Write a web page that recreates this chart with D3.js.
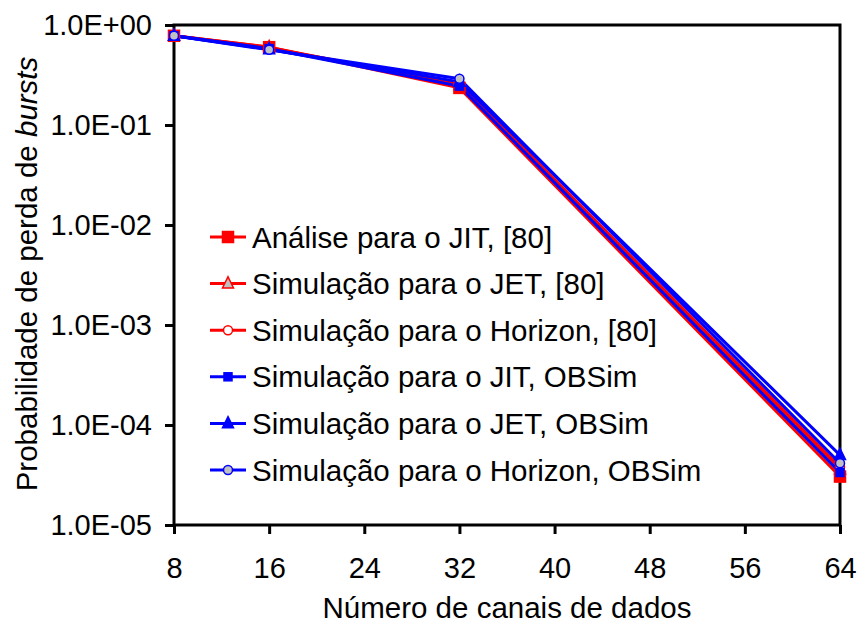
<!DOCTYPE html>
<html>
<head>
<meta charset="utf-8">
<script src="https://cdn.jsdelivr.net/npm/d3@7"></script>
<style>
  html, body { margin: 0; padding: 0; background: #fff; }
  svg { display: block; font-family: "Liberation Sans", Arial, sans-serif; }
</style>
</head>
<body>
<svg id="chart" width="857" height="628"></svg>
<script>
// Number of data channels
const channels = [8, 16, 32, 64];

// Burst loss probability per scheme
const analiseJIT80   = [0.78, 0.60, 0.235, 3.05e-5];
const simJET80       = [0.78, 0.60, 0.25, 3.6e-5];
const simHorizon80   = [0.78, 0.59, 0.26, 3.8e-5];
const simJITOBSim    = [0.78, 0.58, 0.245, 3.35e-5];
const simJETOBSim    = [0.78, 0.57, 0.27, 5.0e-5];
const simHorizonOBSim= [0.78, 0.565, 0.29, 4.15e-5];

const xTicks = [8, 16, 24, 32, 40, 48, 56, 64];
const yTicks = [1e-5, 1e-4, 1e-3, 1e-2, 1e-1, 1];
const yTickLabels = ["1.0E-05", "1.0E-04", "1.0E-03", "1.0E-02", "1.0E-01", "1.0E+00"];

const seriesNames = [
  "Análise para o JIT, [80]",
  "Simulação para o JET, [80]",
  "Simulação para o Horizon, [80]",
  "Simulação para o JIT, OBSim",
  "Simulação para o JET, OBSim",
  "Simulação para o Horizon, OBSim"
];

const series = [
  { name: seriesNames[0], values: analiseJIT80,    color: "#ff0000", shape: "square",   size: 11, fill: "#ff0000" },
  { name: seriesNames[1], values: simJET80,        color: "#ff0000", shape: "triangle", size: 10, fill: "#c0c0c0" },
  { name: seriesNames[2], values: simHorizon80,    color: "#ff0000", shape: "circle",   size: 9,  fill: "#ffffff" },
  { name: seriesNames[3], values: simJITOBSim,     color: "#0000ff", shape: "square",   size: 8,  fill: "#0000ff" },
  { name: seriesNames[4], values: simJETOBSim,     color: "#0000ff", shape: "triangle", size: 10, fill: "#0000ff" },
  { name: seriesNames[5], values: simHorizonOBSim, color: "#0000ff", shape: "circle",   size: 9,  fill: "#c0c0c0" }
];

const svg = d3.select("#chart");
const margin = { left: 174, right: 17, top: 25, bottom: 103 };
const W = 857, H = 628;
const x0 = margin.left, x1 = W - margin.right;
const y0 = margin.top, y1 = H - margin.bottom;

const x = d3.scaleLinear().domain([8, 64]).range([x0, x1]);
const y = d3.scaleLog().domain([1e-5, 1]).range([y1, y0]);

const tickFont = 29;
const legendFont = 29.5;
const titleFont = 29.5;

// Axes
const xAxis = d3.axisBottom(x).tickValues(xTicks).tickSize(9).tickSizeOuter(0).tickPadding(23);
const gx = svg.append("g").attr("transform", `translate(0,${y1})`).call(xAxis);
gx.select(".domain").remove();
gx.selectAll(".tick line").attr("stroke", "#000").attr("stroke-width", 3);
gx.selectAll(".tick text").attr("font-size", tickFont).attr("fill", "#000")
  .attr("font-family", "Liberation Sans, Arial, sans-serif");

const yAxis = d3.axisLeft(y).tickValues(yTicks)
  .tickFormat((d, i) => yTickLabels[i]).tickSize(9).tickSizeOuter(0).tickPadding(13);
const gy = svg.append("g").attr("transform", `translate(${x0},0)`).call(yAxis);
gy.select(".domain").remove();
gy.selectAll(".tick line").attr("stroke", "#000").attr("stroke-width", 3);
gy.selectAll(".tick text").attr("font-size", tickFont).attr("fill", "#000")
  .attr("font-family", "Liberation Sans, Arial, sans-serif");

// Plot frame
svg.append("rect")
  .attr("x", x0).attr("y", y0)
  .attr("width", x1 - x0).attr("height", y1 - y0)
  .attr("fill", "none").attr("stroke", "#000").attr("stroke-width", 3);

// Markers
function drawMarker(g, s, cx, cy) {
  const r = s.size / 2;
  if (s.shape === "square") {
    g.append("rect").attr("x", cx - r).attr("y", cy - r)
      .attr("width", s.size).attr("height", s.size)
      .attr("fill", s.fill).attr("stroke", s.color).attr("stroke-width", 1.5);
  } else if (s.shape === "triangle") {
    const h = s.size * 1.1;
    g.append("path")
      .attr("d", `M${cx},${cy - h * 0.62}L${cx + r * 1.1},${cy + h * 0.4}L${cx - r * 1.1},${cy + h * 0.4}Z`)
      .attr("fill", s.fill).attr("stroke", s.color).attr("stroke-width", 1.5);
  } else {
    g.append("circle").attr("cx", cx).attr("cy", cy).attr("r", r)
      .attr("fill", s.fill).attr("stroke", s.color).attr("stroke-width", 1.5);
  }
}

const line = d3.line().x(d => x(d[0])).y(d => y(d[1]));
const plot = svg.append("g");
series.forEach(s => {
  const pts = channels.map((c, i) => [c, s.values[i]]);
  plot.append("path").datum(pts).attr("d", line)
    .attr("fill", "none").attr("stroke", s.color).attr("stroke-width", 3)
    .attr("stroke-linejoin", "miter");
});
series.forEach(s => {
  channels.forEach((c, i) => drawMarker(plot, s, x(c), y(s.values[i])));
});

// Legend
const legend = svg.append("g");
const legY0 = 237, legDy = 46.6;
series.forEach((s, i) => {
  const cy = legY0 + i * legDy;
  legend.append("line").attr("x1", 210).attr("x2", 246).attr("y1", cy).attr("y2", cy)
    .attr("stroke", s.color).attr("stroke-width", 3);
  drawMarker(legend, s, 228, cy);
  legend.append("text").attr("x", 252).attr("y", cy + 10.5)
    .attr("font-size", legendFont).attr("fill", "#000").text(s.name);
});

// Axis titles
svg.append("text")
  .attr("x", (x0 + x1) / 2).attr("y", 618)
  .attr("text-anchor", "middle").attr("font-size", titleFont)
  .text("Número de canais de dados");

const yt = svg.append("text")
  .attr("transform", `translate(37,${(y0 + y1) / 2 - 1}) rotate(-90)`)
  .attr("text-anchor", "middle").attr("font-size", titleFont);
yt.append("tspan").text("Probabilidade de perda de ");
yt.append("tspan").attr("font-style", "italic").text("bursts");
</script>
</body>
</html>
